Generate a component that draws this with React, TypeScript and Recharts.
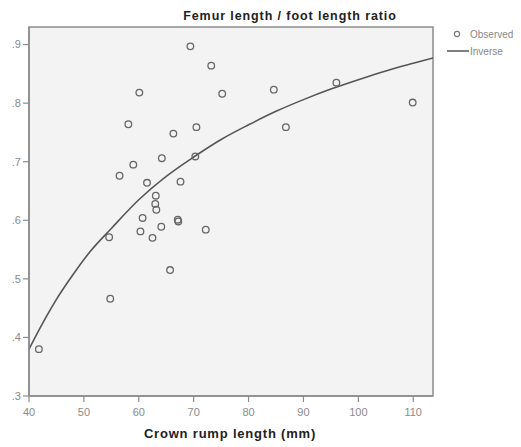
import React from 'react';
import {
  ComposedChart,
  Scatter,
  Line,
  XAxis,
  YAxis,
  ReferenceArea,
} from 'recharts';

// Observed points: crown rump length (mm) and femur/foot length ratio
const crl = [
  69.4, 73.2, 60.1, 75.2, 58.1, 66.3, 70.5, 64.2, 70.3, 59.0, 56.5,
  61.5, 67.6, 63.1, 63.0, 63.2, 60.7, 67.1, 67.2, 64.1, 60.3, 72.2,
  62.5, 54.6, 65.7, 54.8, 41.8, 84.6, 86.8, 96.0, 109.9,
];
const ratio = [
  0.897, 0.864, 0.818, 0.816, 0.764, 0.748, 0.759, 0.706, 0.709, 0.695, 0.676,
  0.664, 0.666, 0.642, 0.628, 0.618, 0.604, 0.601, 0.598, 0.589, 0.581, 0.584,
  0.570, 0.571, 0.515, 0.466, 0.380, 0.823, 0.759, 0.835, 0.801,
];

// Inverse fit curve
const curveX = [40, 43, 45, 48, 51, 55, 60, 65, 70, 75, 80, 85, 90, 95, 100, 105, 110, 113.6];
const curveY = [0.380, 0.433, 0.465, 0.507, 0.545, 0.586, 0.635, 0.675, 0.708, 0.738, 0.763, 0.786, 0.806, 0.824, 0.840, 0.855, 0.868, 0.877];

const xTicks = [40, 50, 60, 70, 80, 90, 100, 110];
const yTicks = [0.3, 0.4, 0.5, 0.6, 0.7, 0.8, 0.9];

const title = 'Femur length / foot length ratio';
const xLabel = 'Crown rump length (mm)';
const legendObserved = 'Observed';
const legendInverse = 'Inverse';

const observed = crl.map((x, i) => ({ x, y: ratio[i] }));
const curve = curveX.map((x, i) => ({ x, y: curveY[i] }));

const X_MIN = 40;
const X_MAX = 113.6;
const Y_MIN = 0.3;
const Y_MAX = 0.93;

const font = 'Arial, "Liberation Sans", sans-serif';

const circleShape = (props: any) => (
  <circle cx={props.cx} cy={props.cy} r={3.3} fill="none" stroke="#666" strokeWidth={1.3} />
);

export default function App() {
  return (
    <div style={{ position: 'absolute', left: 0, top: 0, background: '#fff' }}>
      <ComposedChart
        width={521}
        height={447}
        margin={{ top: 27, right: 88, bottom: 0, left: 0 }}
        style={{ fontFamily: font }}
      >
        <XAxis
          type="number"
          dataKey="x"
          domain={[X_MIN, X_MAX]}
          ticks={xTicks}
          allowDataOverflow
          height={51}
          tickSize={6}
          tickMargin={6}
          axisLine={{ stroke: '#8c8c8c', strokeWidth: 1.5 }}
          tickLine={{ stroke: '#8c8c8c', strokeWidth: 1.2 }}
          tick={{ fill: '#8a8a8a', fontSize: 11, fontFamily: font }}
        />
        <YAxis
          type="number"
          dataKey="y"
          domain={[Y_MIN, Y_MAX]}
          ticks={yTicks}
          allowDataOverflow
          width={29}
          tickSize={6}
          tickMargin={2}
          axisLine={{ stroke: '#8c8c8c', strokeWidth: 1.5 }}
          tickLine={{ stroke: '#8c8c8c', strokeWidth: 1.2 }}
          tick={{ fill: '#8a8a8a', fontSize: 11, fontFamily: font }}
          tickFormatter={(v: number) => v.toFixed(1).replace(/^0/, '')}
        />
        <ReferenceArea
          x1={X_MIN}
          x2={X_MAX}
          y1={Y_MIN}
          y2={Y_MAX}
          fill="#f3f3f3"
          fillOpacity={1}
          stroke="#8c8c8c"
          strokeWidth={1.5}
        />
        <Line
          data={curve}
          dataKey="y"
          type="monotone"
          stroke="#555"
          strokeWidth={1.6}
          dot={false}
          activeDot={false}
          isAnimationActive={false}
        />
        <Scatter data={observed} dataKey="y" shape={circleShape} isAnimationActive={false} />
        <text x={290} y={19.5} textAnchor="middle" fontFamily={font} fontSize={12.5} fontWeight="bold" letterSpacing={0.9} fill="#222">
          {title}
        </text>
        <text x={230} y={438} textAnchor="middle" fontFamily={font} fontSize={13} fontWeight="bold" letterSpacing={0.8} fill="#222">
          {xLabel}
        </text>
        <circle cx={457} cy={34} r={2.6} fill="none" stroke="#777" strokeWidth={1.1} />
        <text x={470} y={37.5} fontFamily={font} fontSize={10} fill="#888">
          {legendObserved}
        </text>
        <line x1={447} x2={469} y1={51} y2={51} stroke="#555" strokeWidth={1.5} />
        <text x={470} y={54.5} fontFamily={font} fontSize={10} fill="#888">
          {legendInverse}
        </text>
      </ComposedChart>
    </div>
  );
}
